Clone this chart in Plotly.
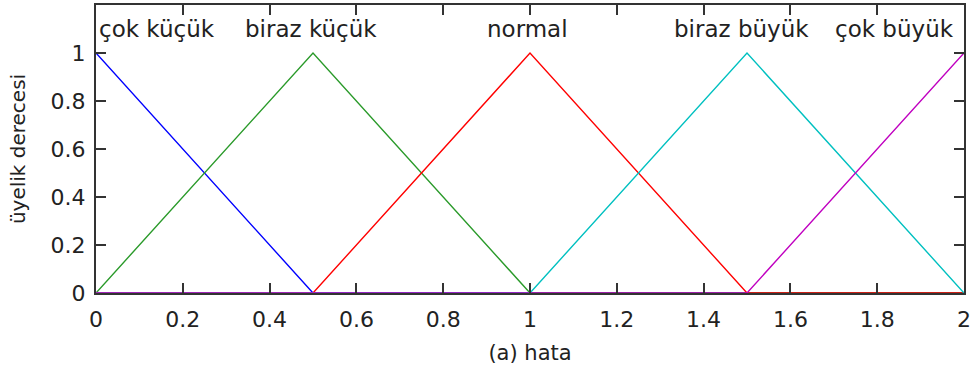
import plotly.graph_objects as go

# membership function breakpoints
cok_kucuk_x = [0, 0.5, 2]
cok_kucuk_y = [1, 0, 0]
biraz_kucuk_x = [0, 0.5, 1, 2]
biraz_kucuk_y = [0, 1, 0, 0]
normal_x = [0, 0.5, 1, 1.5, 2]
normal_y = [0, 0, 1, 0, 0]
biraz_buyuk_x = [0, 1, 1.5, 2]
biraz_buyuk_y = [0, 0, 1, 0]
cok_buyuk_x = [0, 1.5, 2]
cok_buyuk_y = [0, 0, 1]

label_names = ["çok küçük", "biraz küçük", "normal", "biraz büyük", "çok büyük"]
label_x = [0.14, 0.495, 0.995, 1.488, 1.84]
label_y = [1.1, 1.1, 1.1, 1.1, 1.1]

x_ticks = [0, 0.2, 0.4, 0.6, 0.8, 1, 1.2, 1.4, 1.6, 1.8, 2]
y_ticks = [0, 0.2, 0.4, 0.6, 0.8, 1]

series = [
    (cok_kucuk_x, cok_kucuk_y, "#0000ff"),
    (biraz_kucuk_x, biraz_kucuk_y, "#2a9a2a"),
    (normal_x, normal_y, "#ff0000"),
    (biraz_buyuk_x, biraz_buyuk_y, "#00c0c0"),
    (cok_buyuk_x, cok_buyuk_y, "#c000c0"),
]

fig = go.Figure()
for xs, ys, c in series:
    fig.add_trace(go.Scatter(x=xs, y=ys, mode="lines",
                             line=dict(color=c, width=1.4), showlegend=False,
                             cliponaxis=False))

for name, lx, ly in zip(label_names, label_x, label_y):
    fig.add_annotation(x=lx, y=ly, text=name, showarrow=False,
                       xref="x", yref="y",
                       font=dict(family="DejaVu Sans", size=23, color="#222"))

font_tick = dict(family="DejaVu Sans", size=22, color="#222")

fig.update_layout(
    width=973, height=377,
    margin=dict(l=96, r=9, t=5, b=84),
    paper_bgcolor="white", plot_bgcolor="white",
    font=dict(family="DejaVu Sans", color="#222"),
)
fig.update_xaxes(
    range=[0, 2], tickvals=x_ticks, ticktext=[f"{v:g}" for v in x_ticks],
    ticks="inside", ticklen=10, tickwidth=2, tickcolor="#333",
    showline=True, linecolor="#333", linewidth=2, mirror="ticks",
    showgrid=False, zeroline=False, tickfont=font_tick, automargin=False,
    ticklabelstandoff=6,
    title=dict(text="(a) hata", font=dict(family="DejaVu Sans", size=21, color="#222"), standoff=14),
)
fig.update_yaxes(
    range=[0, 1.2], tickvals=y_ticks, ticktext=[f"{v:g}" for v in y_ticks],
    ticks="inside", ticklen=10, tickwidth=2, tickcolor="#333",
    showline=True, linecolor="#333", linewidth=2, mirror="ticks",
    showgrid=False, zeroline=False, tickfont=font_tick, automargin=False,
    ticklabelstandoff=4,
    title=dict(text="üyelik derecesi", font=dict(family="DejaVu Sans", size=20, color="#222"), standoff=20),
)

fig.write_html("out.html", config={"displayModeBar": False},
               post_script="document.body.style.margin='0';")
